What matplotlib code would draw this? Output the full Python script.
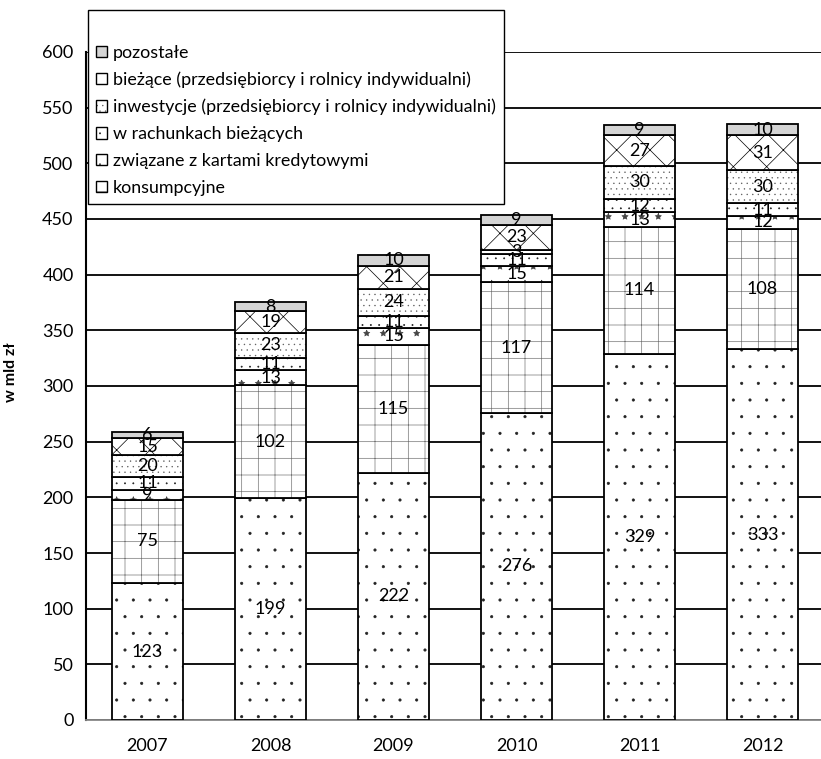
import matplotlib.pyplot as plt
from matplotlib import hatch as mhatch
from matplotlib.colors import to_rgba
from matplotlib.patches import Rectangle
import numpy as np

plt.rcParams["font.family"] = ["Lato", "DejaVu Sans"]
plt.rcParams["hatch.linewidth"] = 0.5

# finer dot and star fills
mhatch.SmallFilledCircles.size = 0.07
mhatch.Stars.size = 0.18

years = ["2007", "2008", "2009", "2010", "2011", "2012"]

# stacked from the bottom up
mieszkaniowe = [123, 199, 222, 276, 329, 333]
konsumpcyjne = [75, 102, 115, 117, 114, 108]
karty = [9, 13, 15, 15, 13, 12]
rachunki = [11, 11, 11, 11, 12, 11]
inwestycje = [20, 23, 24, 3, 30, 30]
biezace = [15, 19, 21, 23, 27, 31]
pozostale = [6, 8, 10, 9, 9, 10]

series = [
    (None, mieszkaniowe, "white", ".", "#222222"),
    ("konsumpcyjne", konsumpcyjne, "white", "+", "#777777"),
    ("związane z kartami kredytowymi", karty, "white", "*", "#444444"),
    ("w rachunkach bieżących", rachunki, "white", "..", "#222222"),
    ("inwestycje (przedsiębiorcy i rolnicy indywidualni)", inwestycje, "white", "...", "#666666"),
    ("bieżące (przedsiębiorcy i rolnicy indywidualni)", biezace, "white", "x", "black"),
    ("pozostałe", pozostale, "#d4d4d4", "", "black"),
]

fig = plt.figure(figsize=(8.21, 7.59), dpi=100)
ax = fig.add_axes([86 / 821, 1 - 720 / 759, 1 - 86 / 821 + 3 / 821, 668 / 759])

x = np.arange(len(years))
bottom = np.zeros(len(years))
handles = []
for label, vals, color, hatch, hcolor in series:
    vals = np.array(vals, dtype=float)
    bars = ax.bar(x, vals, 0.57, bottom=bottom, color=color, edgecolor="black",
                  linewidth=1.3, zorder=3)
    for b in bars:
        b.set_hatch(hatch)
        b._hatch_color = to_rgba(hcolor)
    for xi, v, b0 in zip(x, vals, bottom):
        ax.text(xi, b0 + v / 2, f"{int(v)}", ha="center", va="center",
                fontsize=13, zorder=5)
    if label is not None:
        h = Rectangle((0, 0), 1, 1, facecolor=color, edgecolor="black",
                      linewidth=1, hatch=hatch)
        h._hatch_color = to_rgba(hcolor)
        handles.append((h, label))
    bottom += vals

ax.set_xlim(-0.5, 5.5)
ax.set_ylim(0, 600)
ax.set_yticks(np.arange(0, 601, 50))
ax.set_xticks(x)
ax.set_xticklabels(years)
ax.tick_params(axis="both", length=0, labelsize=13)
ax.tick_params(axis="y", pad=9)
ax.tick_params(axis="x", pad=13)
ax.yaxis.grid(True, color="black", linewidth=1.3, zorder=0)
ax.set_axisbelow(True)
for side in ["top", "right"]:
    ax.spines[side].set_visible(False)
ax.spines["left"].set_linewidth(1.5)
ax.spines["bottom"].set_color("#888888")
ax.spines["bottom"].set_linewidth(1.3)
ax.set_ylabel("w mld zł", fontsize=11.5, fontweight="bold", labelpad=10)
ax.yaxis.set_label_coords(-0.092, 0.52)

blank = Rectangle((0, 0), 1, 1, facecolor="none", edgecolor="none")
handles = handles[::-1]
leg = fig.legend([blank] + [h for h, _ in handles], [" "] + [l for _, l in handles],
                 loc="upper left", bbox_to_anchor=(88 / 821, 1 - 10 / 759),
                 bbox_transform=fig.transFigure, borderaxespad=0, frameon=True,
                 fancybox=False, edgecolor="black", framealpha=1, fontsize=12.9,
                 handlelength=0.6, handleheight=0.6, handletextpad=0.35,
                 labelspacing=0.6, borderpad=0.45)
leg.get_frame().set_linewidth(1.0)
leg.set_zorder(10)

fig.savefig("out.png", dpi=100)
